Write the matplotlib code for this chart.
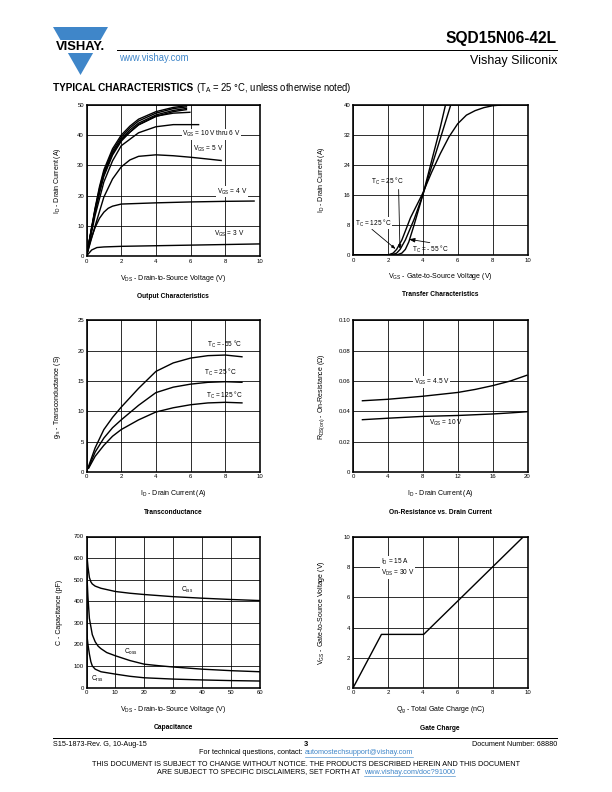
import matplotlib
matplotlib.use("Agg")
import matplotlib.pyplot as plt
from matplotlib.patches import Polygon, Rectangle

plt.rcParams['font.family'] = ['Liberation Sans', 'DejaVu Sans']
plt.rcParams['mathtext.fontset'] = 'custom'
plt.rcParams['mathtext.rm'] = 'Liberation Sans'
plt.rcParams['mathtext.it'] = 'Liberation Sans:italic'
plt.rcParams['mathtext.bf'] = 'Liberation Sans:bold'

W, H = 612, 792
BLUE = '#3f86c9'

# --- Output characteristics (ID vs VDS)
out_vds_a = [0, 0.25, 0.5, 0.75, 1, 1.5, 2, 2.5, 3, 4, 5, 5.8]
out_id_10v = [0, 8, 16, 23, 28.5, 35.5, 40, 43, 45.3, 47.8, 49.2, 49.8]
out_id_9v = [0, 7.8, 15.6, 22.4, 27.8, 34.8, 39.3, 42.4, 44.7, 47.3, 48.8, 49.4]
out_id_8v = [0, 7.6, 15.2, 21.8, 27.0, 34.0, 38.6, 41.7, 44.0, 46.7, 48.2, 48.9]
out_id_7v = [0, 7.4, 14.8, 21.2, 26.4, 33.4, 38.0, 41.0, 43.4, 46.2, 47.8, 48.5]
out_vds_b = [0, 0.5, 1, 1.5, 2, 3, 4, 5, 6]
out_id_6v = [0, 15, 27, 34, 38.5, 43.5, 46.3, 47.3, 47.6]
out_vds_c = [0, 0.5, 1, 1.5, 2, 3, 4, 5, 6.5]
out_id_5v = [0, 13.5, 24.5, 31.5, 36.5, 40.8, 42.8, 43.5, 43.5]
out_vds_d = [0, 0.5, 1, 1.5, 2, 2.5, 3, 4, 5, 6, 7, 7.8]
out_id_45v = [0, 10, 19.5, 25.5, 29.5, 31.8, 33, 33.5, 33.2, 32.7, 32.1, 31.6]
out_vds_e = [0, 0.25, 0.5, 0.75, 1, 1.25, 1.5, 2, 4, 6, 8, 9.7]
out_id_4v = [0, 5.5, 9.5, 12.5, 14.5, 15.8, 16.5, 17.2, 17.6, 17.9, 18.1, 18.2]
out_vds_f = [0, 0.3, 0.6, 1, 2, 4, 6, 8, 10]
out_id_3v = [0, 2, 2.8, 3.0, 3.2, 3.4, 3.6, 3.8, 4.0]

# --- Transfer characteristics (ID vs VGS)
tr_vgs_m55 = [0, 2.5, 2.8, 3.0, 3.2, 3.5, 4.0, 4.5, 5.0, 5.3]
tr_id_m55 = [0, 0, 0.5, 1.5, 3.5, 8, 16, 25, 34, 40]
tr_vgs_25 = [0, 2.2, 2.5, 2.7, 3.0, 3.5, 4.0, 4.5, 5.0, 5.6]
tr_id_25 = [0, 0, 0.5, 1.5, 4, 9.5, 16, 23.5, 31, 40]
tr_vgs_125 = [0, 2.0, 2.3, 2.5, 2.8, 3.3, 4.0, 4.5, 5.0, 5.5, 6.0, 6.5, 7.0, 7.5, 8.0, 8.5]
tr_id_125 = [0, 0, 0.5, 1.5, 4, 10, 16.5, 22, 27, 31.5, 35, 37.3, 38.5, 39.3, 39.8, 40]

# --- Transconductance (gfs vs ID)
gfs_id = [0.1, 0.5, 1, 1.5, 2, 3, 4, 5, 6, 7, 8, 9]
gfs_m55 = [0.8, 4, 7.0, 9.0, 10.7, 13.8, 16.6, 18.0, 18.8, 19.2, 19.3, 19.0]
gfs_25 = [0.6, 3.3, 5.6, 7.3, 8.6, 11.0, 13.1, 14.0, 14.5, 14.8, 14.9, 14.8]
gfs_125 = [0.5, 2.6, 4.4, 5.9, 7.0, 8.6, 9.9, 10.6, 11.1, 11.4, 11.5, 11.4]

# --- On-resistance vs drain current
ron_id = [1, 4, 8, 12, 14, 16, 18, 20]
ron_45v = [0.047, 0.048, 0.050, 0.0525, 0.0545, 0.057, 0.060, 0.064]
ron_10v = [0.0345, 0.0355, 0.0367, 0.0373, 0.0378, 0.0383, 0.0390, 0.0398]

# --- Capacitance vs VDS
cap_ciss_v = [0, 0.5, 1, 1.5, 2, 3, 5, 10, 15, 20, 30, 40, 50, 60]
cap_ciss = [635, 560, 510, 490, 480, 470, 460, 445, 437, 431, 421, 414, 408, 403]
cap_coss_v = [0, 0.5, 1, 2, 3, 4, 5, 7, 10, 15, 20, 25, 30, 40, 50, 60]
cap_coss = [560, 420, 320, 245, 212, 192, 180, 162, 147, 125, 108, 101, 95, 85, 78, 73]
cap_crss_v = [0, 0.5, 1, 1.5, 2, 3, 5, 10, 15, 20, 30, 40, 50, 60]
cap_crss = [260, 200, 155, 120, 100, 85, 73, 62, 52, 45, 39, 35, 32, 30]

# --- Gate charge
qg_nc = [0, 1.63, 4.05, 9.75]
qg_vgs = [0, 3.55, 3.55, 10]

fig = plt.figure(figsize=(W / 72, H / 72), dpi=72)
bg = fig.add_axes([0, 0, 1, 1])
bg.set_xlim(0, W)
bg.set_ylim(H, 0)
bg.axis('off')

ANN = 6.5  # annotation size inside the graphs


def panel(x0, y0, w, h):
    ax = fig.add_axes([x0 / W, 1 - (y0 + h) / H, w / W, h / H])
    ax.grid(True, color='black', lw=0.8)
    ax.set_axisbelow(True)
    for s in ax.spines.values():
        s.set_linewidth(1.6)
    ax.tick_params(length=0, labelsize=6, pad=2.5)
    return ax


def curve(ax, x, y):
    ax.plot(x, y, color='black', lw=1.4, solid_capstyle='butt')


def lbl(ax, x, y, s, box=True, **kw):
    kw.setdefault('ha', 'center')
    bb = dict(facecolor='white', edgecolor='none', pad=0.6) if box else None
    ax.text(x, y, s, fontsize=ANN, va='center', bbox=bb, **kw)


def under(ax, xlabel, title, ylabel, ycoord):
    pos = ax.get_position()
    cx = (pos.x0 + pos.x1) / 2 * W
    yb = (1 - pos.y0) * H
    bg.text(cx, yb + 22, xlabel, fontsize=7, ha='center', va='center')
    bg.text(cx, yb + 40, title, fontsize=6.6, fontweight='bold', ha='center', va='center')
    ax.set_ylabel(ylabel, fontsize=7)
    ax.yaxis.set_label_coords(ycoord, 0.5)


VGS = r'V$_{\mathrm{GS}}$'
TC = r'T$_{\mathrm{C}}$'

# Output characteristics
ax1 = panel(86.5, 105, 173.5, 151)
for xs, ys in [(out_vds_a, out_id_10v), (out_vds_a, out_id_9v), (out_vds_a, out_id_8v),
               (out_vds_a, out_id_7v), (out_vds_b, out_id_6v), (out_vds_c, out_id_5v),
               (out_vds_d, out_id_45v), (out_vds_e, out_id_4v), (out_vds_f, out_id_3v)]:
    curve(ax1, xs, ys)
ax1.set_xlim(0, 10)
ax1.set_ylim(0, 50)
ax1.set_xticks(range(0, 11, 2))
ax1.set_yticks(range(0, 51, 10))
lbl(ax1, 7.2, 40.3, VGS + ' = 10 V thru 6 V')
lbl(ax1, 7.0, 35.3, VGS + ' = 5 V', box=False)
lbl(ax1, 8.4, 21.3, VGS + ' = 4 V')
lbl(ax1, 8.25, 7.4, VGS + ' = 3 V', box=False)
under(ax1, r'V$_{\mathrm{DS}}$ - Drain-to-Source Voltage (V)', 'Output Characteristics',
      r'I$_{\mathrm{D}}$ - Drain Current (A)', -0.135)

# Transfer characteristics
ax2 = panel(353, 105, 174.5, 150)
curve(ax2, tr_vgs_m55, tr_id_m55)
curve(ax2, tr_vgs_25, tr_id_25)
curve(ax2, tr_vgs_125, tr_id_125)
ax2.set_xlim(0, 10)
ax2.set_ylim(0, 40)
ax2.set_xticks(range(0, 11, 2))
ax2.set_yticks(range(0, 41, 8))
arr = dict(arrowstyle='-|>,head_length=0.5,head_width=0.18', color='black', lw=0.8,
           shrinkA=0, shrinkB=0)
ax2.annotate(TC + ' = 25 °C', xy=(2.69, 1.6), xytext=(1.95, 19.5), fontsize=ANN,
             ha='center', va='center',
             arrowprops=dict(arr, relpos=(0.85, 0.0)))
ax2.annotate(TC + ' = 125 °C', xy=(2.44, 1.6), xytext=(1.15, 8.5), fontsize=ANN,
             ha='center', va='center',
             bbox=dict(facecolor='white', edgecolor='none', pad=0.6),
             arrowprops=dict(arr, relpos=(0.45, 0.0)))
ax2.annotate('', xy=(3.2, 4.2), xytext=(4.4, 3.3), arrowprops=arr)
lbl(ax2, 3.4, 1.6, TC + ' = - 55 °C', box=False, ha='left')
under(ax2, VGS + ' - Gate-to-Source Voltage (V)', 'Transfer Characteristics',
      r'I$_{\mathrm{D}}$ - Drain Current (A)', -0.15)

# Transconductance
ax3 = panel(86.5, 320.5, 173.5, 151.5)
curve(ax3, gfs_id, gfs_m55)
curve(ax3, gfs_id, gfs_25)
curve(ax3, gfs_id, gfs_125)
ax3.set_xlim(0, 10)
ax3.set_ylim(0, 25)
ax3.set_xticks(range(0, 11, 2))
ax3.set_yticks(range(0, 26, 5))
lbl(ax3, 9.0, 21.1, TC + ' = -55 °C', box=False, ha='right')
lbl(ax3, 8.7, 16.4, TC + ' = 25 °C', box=False, ha='right')
lbl(ax3, 9.0, 12.6, TC + ' = 125 °C', box=False, ha='right')
under(ax3, r'I$_{\mathrm{D}}$ - Drain Current (A)', 'Transconductance',
      r'g$_{\mathrm{fs}}$ - Transconductance (S)', -0.135)

# On-resistance
ax4 = panel(353, 320.5, 174.5, 151.5)
curve(ax4, ron_id, ron_45v)
curve(ax4, ron_id, ron_10v)
ax4.set_xlim(0, 20)
ax4.set_ylim(0, 0.10)
ax4.set_xticks(range(0, 21, 4))
ax4.set_yticks([0, 0.02, 0.04, 0.06, 0.08, 0.10])
ax4.set_yticklabels(['0', '0.02', '0.04', '0.06', '0.08', '0.10'])
lbl(ax4, 9.0, 0.0595, VGS + ' = 4.5 V')
lbl(ax4, 10.7, 0.0326, VGS + ' = 10 V', box=False)
under(ax4, r'I$_{\mathrm{D}}$ - Drain Current (A)', 'On-Resistance vs. Drain Current',
      r'R$_{\mathrm{DS(on)}}$ - On-Resistance (Ω)', -0.15)

# Capacitance
ax5 = panel(86.5, 536.5, 173.5, 151)
curve(ax5, cap_ciss_v, cap_ciss)
curve(ax5, cap_coss_v, cap_coss)
curve(ax5, cap_crss_v, cap_crss)
ax5.set_xlim(0, 60)
ax5.set_ylim(0, 700)
ax5.set_xticks(range(0, 61, 10))
ax5.set_yticks(range(0, 701, 100))
lbl(ax5, 34.7, 453, r'C$_{\mathrm{iss}}$', box=False)
lbl(ax5, 15.2, 165, r'C$_{\mathrm{oss}}$', box=False)
lbl(ax5, 3.7, 42, r'C$_{\mathrm{rss}}$', box=False)
under(ax5, r'V$_{\mathrm{DS}}$ - Drain-to-Source Voltage (V)', 'Capacitance',
      'C - Capacitance (pF)', -0.135)

# Gate charge
ax6 = panel(353, 537, 174.5, 151)
curve(ax6, qg_nc, qg_vgs)
ax6.set_xlim(0, 10)
ax6.set_ylim(0, 10)
ax6.set_xticks(range(0, 11, 2))
ax6.set_yticks(range(0, 11, 2))
ax6.text(1.6, 8.0, r'I$_{\mathrm{D}}$ = 15 A' + '\n' + r'V$_{\mathrm{DS}}$ = 30 V', fontsize=ANN,
         ha='left', va='center', linespacing=1.2,
         bbox=dict(facecolor='white', edgecolor='none', pad=0.6))
under(ax6, r'Q$_{\mathrm{g}}$ - Total Gate Charge (nC)', 'Gate Charge',
      VGS + ' - Gate-to-Source Voltage (V)', -0.15)

# --- header
bg.add_patch(Polygon([(53, 27), (108, 27), (80.5, 75)], closed=True, facecolor=BLUE,
                     edgecolor='none'))
bg.add_patch(Rectangle((48, 40), 66, 12.5, facecolor='white', edgecolor='none'))
bg.text(80.5, 46.5, 'VISHAY.', fontsize=13, fontweight='bold', ha='center', va='center')
bg.plot([117, 557], [49.5, 49.5], color='black', lw=1.0)
bg.text(557, 38, 'SQD15N06-42L', fontsize=15.5, fontweight='bold', ha='right', va='center')
bg.text(557, 61, 'Vishay Siliconix', fontsize=12.5, ha='right', va='center')
bg.text(119, 58, 'www.vishay.com', fontsize=9.5, color=BLUE, ha='left', va='center')
t = bg.text(53, 88, 'TYPICAL CHARACTERISTICS', fontsize=10, fontweight='heavy',
            ha='left', va='center')
r = fig.canvas.get_renderer()
x_after = 53 + t.get_window_extent(r).width + 3
bg.text(x_after, 88, r'(T$_{\mathrm{A}}$ = 25 °C, unless otherwise noted)', fontsize=9.5,
        ha='left', va='center')

# --- footer
FS = 7.3
bg.plot([53, 557], [738, 738], color='black', lw=1.0)
bg.text(53, 744, 'S15-1873-Rev. G, 10-Aug-15', fontsize=FS, ha='left', va='center')
bg.text(306, 744.5, '3', fontsize=7.5, fontweight='bold', ha='center', va='center')
bg.text(557, 744, 'Document Number: 68880', fontsize=FS, ha='right', va='center')


def two_part(y, s1, s2, cx=306):
    t1 = bg.text(0, y, s1, fontsize=FS, ha='left', va='center')
    t2 = bg.text(0, y, s2, fontsize=FS, ha='left', va='center', color=BLUE)
    w1 = t1.get_window_extent(r).width
    w2 = t2.get_window_extent(r).width
    gap = 2.8
    x0 = cx - (w1 + gap + w2) / 2
    t1.set_x(x0)
    t2.set_x(x0 + w1 + gap)
    bg.plot([x0 + w1 + gap, x0 + w1 + gap + w2], [y + 4, y + 4], color=BLUE, lw=0.6)


two_part(753, 'For technical questions, contact:', 'automostechsupport@vishay.com')
bg.text(306, 764, 'THIS DOCUMENT IS SUBJECT TO CHANGE WITHOUT NOTICE. THE PRODUCTS DESCRIBED '
        'HEREIN AND THIS DOCUMENT', fontsize=FS, ha='center', va='center')
two_part(772, 'ARE SUBJECT TO SPECIFIC DISCLAIMERS, SET FORTH AT', 'www.vishay.com/doc?91000')

fig.savefig('out.png', dpi=72)
